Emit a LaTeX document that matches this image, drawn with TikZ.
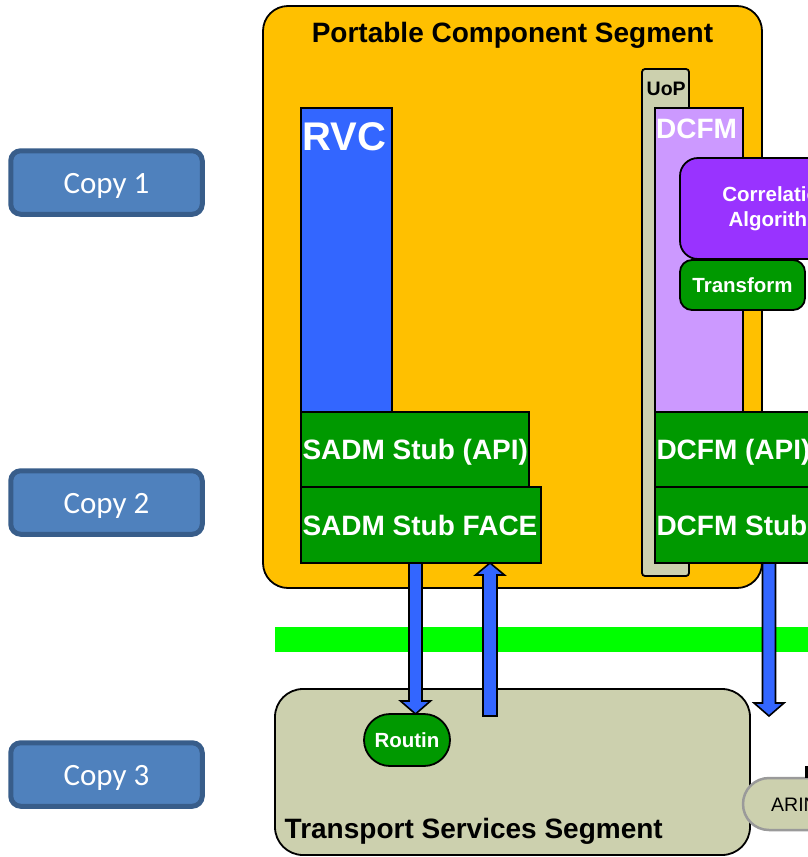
\documentclass[tikz,border=0pt]{standalone}
\usepackage{fontspec}
\setmainfont{Liberation Sans}
\newfontfamily\copyfont{Carlito}
\usetikzlibrary{calc}

\definecolor{pcsorange}{HTML}{FFC000}
\definecolor{khaki}{HTML}{CCD0AE}
\definecolor{rvcblue}{HTML}{3366FF}
\definecolor{lilac}{HTML}{CC99FF}
\definecolor{algviolet}{HTML}{9933FF}
\definecolor{stubgreen}{HTML}{009900}
\definecolor{bargreen}{HTML}{00FF00}
\definecolor{copyfill}{HTML}{4F81BD}
\definecolor{copyedge}{HTML}{385D8A}
\definecolor{pillgray}{HTML}{9A9A9A}

% vertical block arrows: #1 = tail point, #2 = point whose y is the tip
\newcommand\blockdown[2]{%
  \draw[blockarrow] let \p1=(#1), \p2=(#2) in
    (\x1-6.5pt,\y1) -- (\x1-6.5pt,\y2+13pt) -- (\x1-15pt,\y2+13pt) -- (\x1,\y2)
    -- (\x1+15pt,\y2+13pt) -- (\x1+6.5pt,\y2+13pt) -- (\x1+6.5pt,\y1) -- cycle;}
\newcommand\blockup[2]{%
  \draw[blockarrow] let \p1=(#1), \p2=(#2) in
    (\x1-7pt,\y1) -- (\x1-7pt,\y2-12pt) -- (\x1-14.5pt,\y2-12pt) -- (\x1,\y2)
    -- (\x1+14.5pt,\y2-12pt) -- (\x1+7pt,\y2-12pt) -- (\x1+7pt,\y1) -- cycle;}
% fixed-width, left-aligned single line of text
\newcommand\stubtext[2]{\makebox[#1][l]{#2}}

\begin{document}
\begin{tikzpicture}[x=1pt,y=-1pt,
  panel/.style={draw=black, line width=1.8pt, anchor=north west, inner sep=0pt, outer sep=0pt},
  stub/.style={panel, fill=stubgreen, text=white, font=\fontsize{28}{33}\selectfont\bfseries,
    text height=20pt, text depth=0pt, inner xsep=1.5pt, minimum height=75pt},
  smallgreen/.style={panel, fill=stubgreen, text=white, font=\fontsize{20.5}{24.6}\selectfont\bfseries,
    text height=15pt, text depth=0pt},
  heading/.style={anchor=base west, inner sep=0pt, font=\bfseries},
  copybtn/.style={draw=copyedge, line width=5pt, fill=copyfill, rounded corners=10pt,
    minimum width=191.5pt, minimum height=63.5pt, inner sep=0pt, text=white,
    font=\copyfont\fontsize{31}{37}\selectfont, text height=22pt, text depth=0pt},
  blockarrow/.style={draw=black, fill=rvcblue, line width=1.6pt, line join=miter},
]
\useasboundingbox (0,0) rectangle (808,857);
\clip (0,0) rectangle (808,857);

% Portable Component Segment
\node[panel, fill=pcsorange, rounded corners=25pt, minimum width=499pt, minimum height=582pt]
  (pcs) at (263,6) {};
\node[anchor=base, inner sep=0pt, font=\fontsize{28}{33}\selectfont\bfseries]
  (pcstitle) at (512.5,42) {Portable Component Segment};

% UoP container
\node[panel, fill=khaki, rounded corners=3pt, minimum width=47pt, minimum height=507pt]
  (uop) at (642,69) {};
\begin{scope}
  \clip (uop.north west) rectangle (uop.south east);
  \node[heading, font=\fontsize{19.5}{23}\selectfont\bfseries] (uoptext) at (646.5,95.5) {UoP};
\end{scope}

% DCFM component
\node[panel, fill=lilac, minimum width=88pt, minimum height=304pt] (dcfm) at (655,108) {};
\node[heading, text=white, font=\fontsize{28}{33}\selectfont\bfseries] (dcfmtext) at (656,138) {DCFM};

\node[panel, fill=algviolet, rounded corners=18pt, minimum width=194pt, minimum height=101pt,
  text=white, align=center, font=\fontsize{20.5}{24.6}\selectfont\bfseries]
  (corr) at (680,158) {Correlation\\Algorithm};
\node[smallgreen, rounded corners=12pt, minimum width=125pt, minimum height=50pt]
  (transform) at (680,260) {Transform};

% RVC component
\node[panel, fill=rvcblue, minimum width=91pt, minimum height=304pt] (rvc) at (301,108) {};
\node[heading, text=white, font=\fontsize{40}{48}\selectfont\bfseries] (rvctext) at (302,150) {RVC};

% stubs
\node[stub] (sadmapi) at (301,412) {\stubtext{225pt}{SADM Stub (API)}};
\node[stub, minimum height=76pt] (sadmface) at (301,487) {\stubtext{237pt}{SADM Stub FACE}};
\node[stub] (dcfmapi) at (655,412) {\stubtext{197pt}{DCFM (API)}};
\node[stub, minimum height=76pt] (dcfmstub) at (655,487) {\stubtext{197pt}{DCFM Stub}};

% boundary bar
\fill[bargreen] (275,627) rectangle (808,652);

% Transport Services Segment
\node[panel, fill=khaki, rounded corners=28pt, minimum width=475pt, minimum height=166pt]
  (tss) at (275,689) {};
\node[heading, font=\fontsize{28}{33}\selectfont\bfseries] (tsstext) at (284.5,838)
  {Transport Services Segment};
\node[smallgreen, rounded corners=26pt, minimum width=86pt, minimum height=52pt]
  (routin) at (364,714) {Routin};

\node[panel, draw=pillgray, line width=2.5pt, fill=khaki, rounded corners=26pt,
  minimum width=150pt, minimum height=52pt] (arinc) at (743,778) {};
\node[anchor=base west, inner sep=0pt, font=\fontsize{19.5}{23}\selectfont] (arinctext)
  at (771,811) {ARIN};
\fill[black] (805,766) rectangle (808,778);

% data flow arrows
\coordinate (a1s) at ($(sadmface.south west)+(114.5,0)$);
\blockdown{a1s}{routin.north}
\coordinate (a2s) at (490,716);
\blockup{a2s}{sadmface.south}
\coordinate (a3s) at ($(dcfmstub.south west)+(114,0)$);
\coordinate (a3e) at (769,716);
\blockdown{a3s}{a3e}

% copy labels
\node[copybtn] (copy1) at (106.5,182.5) {Copy 1};
\node[copybtn] (copy2) at (106.5,502.5) {Copy 2};
\node[copybtn] (copy3) at (106.5,774.5) {Copy 3};
\end{tikzpicture}
\end{document}
